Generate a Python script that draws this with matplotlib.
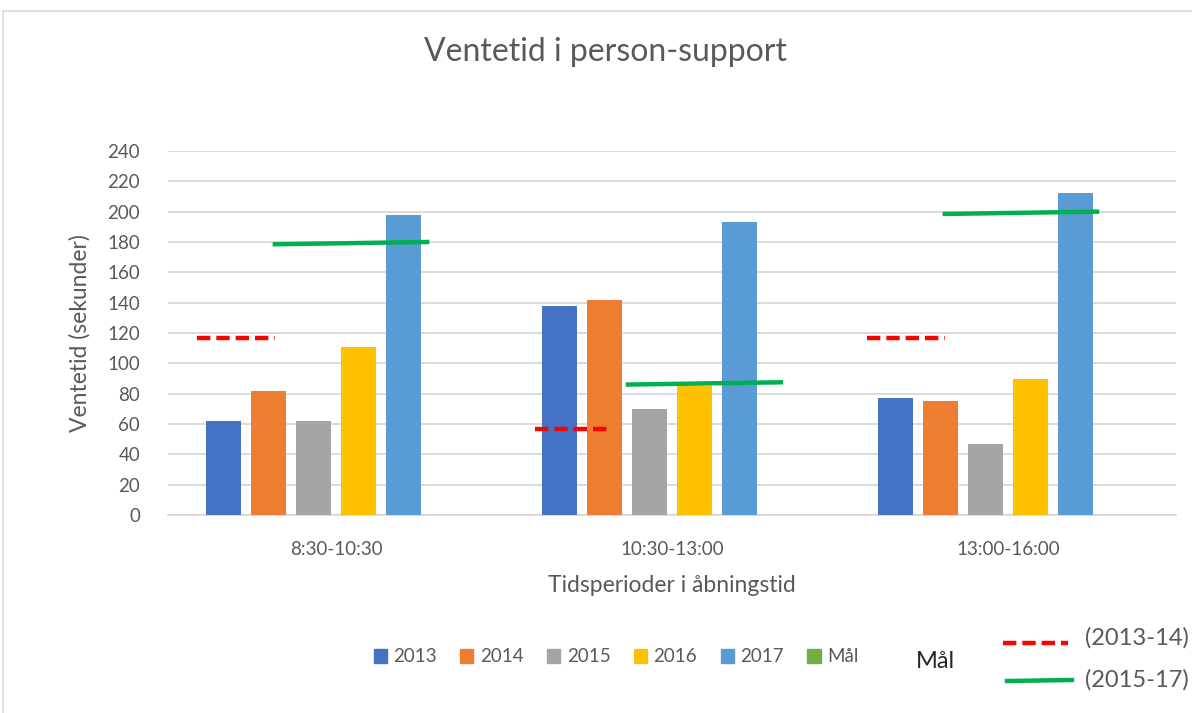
import numpy as np
import matplotlib.pyplot as plt
from matplotlib.lines import Line2D
from matplotlib.patches import Patch

plt.rcParams['font.family'] = ['Lato', 'DejaVu Sans']

# data
perioder = ['8:30-10:30', '10:30-13:00', '13:00-16:00']
aar = ['2013', '2014', '2015', '2016', '2017']
v2013 = [62, 138, 77]
v2014 = [82, 142, 75]
v2015 = [62, 70, 47]
v2016 = [111, 85, 90]
v2017 = [198, 193, 212]
serier = [v2013, v2014, v2015, v2016, v2017]
farver = ['#4472C4', '#ED7D31', '#A5A5A5', '#FFC000', '#5B9BD5']
maal_farve = '#70AD47'

# target lines (mål)
maal_1314 = [117, 57, 117]
maal_1517_start = [178.5, 86, 198.5]
maal_1517_slut = [180, 87.5, 200]

tekst = '#595959'
grid = '#D9D9D9'

fig = plt.figure(figsize=(11.92, 7.13), dpi=100)
ax = fig.add_axes([168/1192, 1-515/713, 1008/1192, 364/713])

x = np.arange(len(perioder))
pitch = 45/336
bredde = 35/336
for i, (vals, c) in enumerate(zip(serier, farver)):
    ax.bar(x + (i - 2.5)*pitch, vals, width=bredde, color=c, zorder=3)

# the goal lines for each period
red_spans = [(-0.414, -0.182), (-0.408, -0.179), (-0.420, -0.188)]
green_spans = [(-0.182, 0.271), (-0.131, 0.324), (-0.188, 0.265)]
streg = (3.0, 1.35)
for k in range(len(perioder)):
    a, b = red_spans[k]
    ax.plot([k + a, k + b], [maal_1314[k], maal_1314[k]], color='#FF0000',
            lw=3.2, dashes=streg, zorder=4, solid_capstyle='butt')
    a, b = green_spans[k]
    ax.plot([k + a, k + b], [maal_1517_start[k], maal_1517_slut[k]],
            color='#00B050', lw=3.2, zorder=4)

ax.set_xlim(-0.5, 2.5)
ax.set_ylim(0, 240)
ax.set_yticks(range(0, 241, 20))
ax.set_xticks(x)
ax.set_xticklabels(perioder)
ax.yaxis.grid(True, color=grid, lw=1.3, zorder=0)
ax.set_axisbelow(True)
for s in ['top', 'right', 'left']:
    ax.spines[s].set_visible(False)
ax.spines['bottom'].set_color(grid)
ax.spines['bottom'].set_linewidth(1.3)
ax.tick_params(axis='both', length=0, labelsize=13.5, labelcolor=tekst)
ax.tick_params(axis='x', pad=19)
ax.tick_params(axis='y', pad=20)

ax.set_xlabel('Tidsperioder i åbningstid', fontsize=16.5, color=tekst, labelpad=12)
ax.set_ylabel('Ventetid (sekunder)', fontsize=16.5, color=tekst, labelpad=12)
fig.text(605/1192, 1-52/713, 'Ventetid i person-support', fontsize=23,
         color=tekst, ha='center', va='center')

# legend at the bottom
handles = [Patch(color=c) for c in farver] + [Patch(color=maal_farve)]
labels = aar + ['Mål']
fig.legend(handles, labels, ncol=6, loc='center', bbox_to_anchor=(616/1192, 1-657/713),
           frameon=False, fontsize=13.5, labelcolor=tekst, handlelength=0.7,
           handleheight=0.7, handletextpad=0.35, columnspacing=1.25)

# manual key for the goal lines
fig.text(935/1192, 1-661/713, 'Mål', fontsize=17, color='#262626', ha='center', va='center')
fig.add_artist(Line2D([1003/1192, 1068/1192], [1-643/713, 1-643/713], color='#FF0000',
                      lw=3.2, dashes=streg))
fig.add_artist(Line2D([1007/1192, 1072/1192], [1-681/713, 1-680/713], color='#00B050', lw=3.2))
fig.text(1085/1192, 1-638/713, '(2013-14)', fontsize=17, color=tekst, va='center')
fig.text(1085/1192, 1-680/713, '(2015-17)', fontsize=17, color=tekst, va='center')

# chart area border
fig.add_artist(Line2D([3/1192, 3/1192], [0, 1-11/713], color=grid, lw=1.2))
fig.add_artist(Line2D([3/1192, 1], [1-11/713, 1-11/713], color=grid, lw=1.2))

fig.savefig('out.png', dpi=100)
